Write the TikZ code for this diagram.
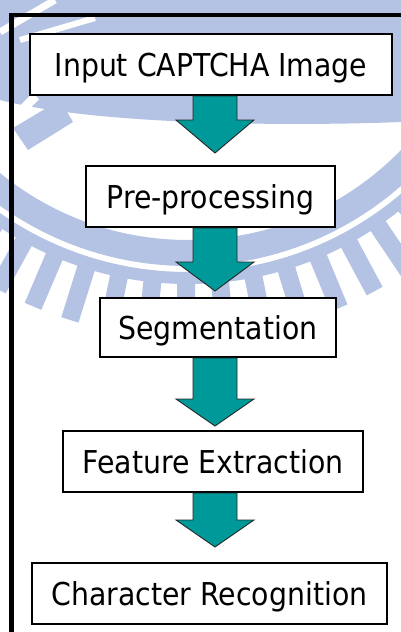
\documentclass[tikz,border=0pt]{standalone}
\usepackage{fontspec}
\newfontfamily\boxfont[FakeStretch=0.9]{DejaVu Sans}
\usetikzlibrary{calc}
\definecolor{wm}{RGB}{180,194,227}
\definecolor{arrowteal}{RGB}{0,153,153}
\tikzset{
  stepbox/.style={draw=black, line width=2, fill=white, inner sep=0pt,
    minimum height=61, font=\boxfont\fontsize{31.5}{36}\selectfont,
    text height=23pt, text depth=0pt, align=center},
  flowarrow/.style={fill=arrowteal, draw=black!85, line width=0.9, line join=miter},
  frame/.style={line width=4.5, line join=miter, draw=black}
}
% #1 from node, #2 to node, #3 gap above target, #4 head length
\newcommand\bigflowarrow[4]{%
  \path (#1.south -| ax) coordinate (#1s) ($(#2.north -| ax)+(0,-#3)$) coordinate (#2t);
  \filldraw[flowarrow] ($(#1s)+(-22,0)$) -- ($(#1s)+(22,0)$) -- ($(#2t)+(22,-#4)$)
    -- ($(#2t)+(39,-#4)$) -- (#2t) -- ($(#2t)+(-39,-#4)$) -- ($(#2t)+(-22,-#4)$) -- cycle;
}
\begin{document}
\begin{tikzpicture}[x=1pt,y=-1pt]
\useasboundingbox (0,0) rectangle (401,632);
\fill[white] (0,0) rectangle (401,632);
% watermark
\begin{scope}
  \clip (0,0) rectangle (401,632);
  \fill[wm] (0,0) -- (401,0) -- (401,122) .. controls (300,126) and (100,126) .. (0,100) -- cycle;
  \draw[white, line width=7] (0,32) -- (55,0);
  \draw[white, line width=6] (20,40) -- (95,18);
  \draw[white, line width=9] (0,132) -- (36,96);
  \fill[wm] (13,128) -- (60,100) -- (73,122) -- (28,150) -- cycle;
  \fill[wm, even odd rule] (188,-57) circle[radius=323] (188,-57) circle[radius=297];
  \fill[wm, even odd rule] (188,-57) circle[radius=341] (188,-57) circle[radius=329];
  \foreach \a in {-62.4,-56.7,...,63} {
    \draw[wm, line width=18] (188,-57) ++(90+\a:340) -- ++(90+\a:55);
  }
\end{scope}
% frame
\draw[frame] (11.7,632) -- (11.7,15) -- (401,15);
% boxes
\coordinate (ax) at (215,0);
\node[stepbox, minimum width=362] (b1) at (211,64.5) {Input CAPTCHA Image};
\node[stepbox, minimum width=249] (b2) at (210.5,196.5) {Pre-processing};
\node[stepbox, minimum width=236, minimum height=59] (b3) at (218,327.5) {Segmentation};
\node[stepbox, minimum width=300] (b4) at (213,461.5) {Feature Extraction};
\node[stepbox, minimum width=355] (b5) at (209.5,593.5) {Character Recognition};
% arrows
\bigflowarrow{b1}{b2}{12}{33}
\bigflowarrow{b2}{b3}{6}{29}
\bigflowarrow{b3}{b4}{4}{27}
\bigflowarrow{b4}{b5}{15}{27}
\end{tikzpicture}
\end{document}
